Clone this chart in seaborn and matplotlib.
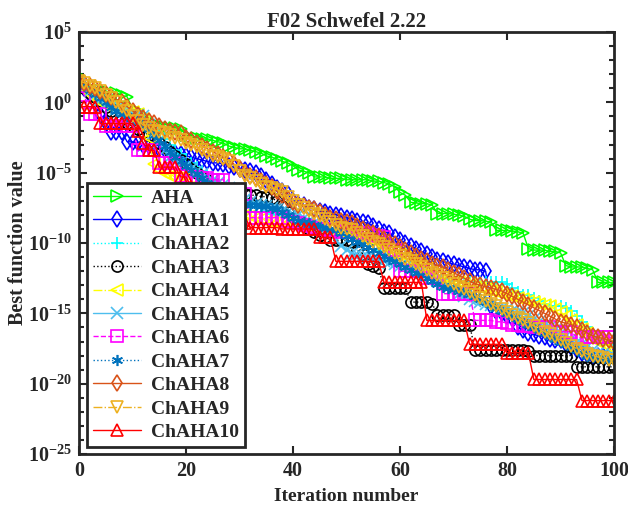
import numpy as np
import matplotlib
matplotlib.use("Agg")
import matplotlib.pyplot as plt
import seaborn as sns
from matplotlib.ticker import FixedLocator, NullFormatter

# iterations 0..100, values below are log10 of best function value
iterations = list(range(101))

aha = [1.9, 1.2, 1.0, 0.9, 0.9, 0.8, 0.7, 0.7, 0.5, 0.4,
       -0.5, -0.6, -0.9, -1.3, -1.5, -1.7, -1.75, -1.8, -1.8, -1.9,
       -2.3, -2.5, -2.5, -2.6, -2.6, -2.7, -2.8, -2.9, -3.1, -3.2,
       -3.3, -3.3, -3.4, -3.5, -3.6, -3.8, -3.9, -4.0, -4.2, -4.3,
       -4.5, -4.8, -4.9, -5.0, -5.3, -5.3, -5.3, -5.4, -5.4, -5.4,
       -5.5, -5.5, -5.5, -5.5, -5.5, -5.6, -5.6, -5.7, -5.8, -6.0,
       -6.4, -6.6, -7.1, -7.15, -7.2, -7.2, -7.3, -7.9, -7.9, -7.9,
       -7.95, -8.0, -8.1, -8.3, -8.4, -8.4, -8.45, -8.5, -9.1, -9.1,
       -9.1, -9.15, -9.2, -9.3, -10.4, -10.5, -10.5, -10.5, -10.6, -10.6,
       -10.7, -11.6, -11.7, -11.7, -11.7, -11.8, -11.9, -12.8, -12.8, -12.8,
       -12.8]
chaha1 = [1.4, 1.0, 0.5, 0.0, -0.8, -1.5, -2.1, -2.1, -2.1, -2.8,
          -2.8, -2.9, -3.0, -3.1, -3.2, -3.3, -3.4, -3.5, -3.6, -3.7,
          -3.8, -3.9, -4.0, -4.1, -4.2, -4.3, -4.3, -4.4, -4.5, -4.6,
          -4.7, -4.8, -4.9, -5.0, -5.2, -5.5, -5.8, -6.1, -6.3, -6.5,
          -7.0, -7.2, -7.3, -7.5, -7.6, -7.7, -7.8, -7.9, -8.0, -8.1,
          -8.2, -8.3, -8.4, -8.5, -8.6, -8.8, -9.0, -9.2, -9.3, -9.6,
          -9.8, -10.0, -10.2, -10.4, -10.6, -10.8, -11.0, -11.2, -11.3, -11.4,
          -11.5, -11.6, -11.7, -11.8, -11.9, -11.9, -12.0, -14.5, -14.8, -15.0,
          -15.2, -15.3, -16.0, -16.2, -16.4, -16.5, -16.6, -16.7, -16.8, -16.9,
          -16.9, -17.2, -17.4, -17.6, -17.8, -17.9, -18.0, -18.0, -18.0, -18.0,
          -18.0]
chaha2 = [1.3, 1.1, 0.9, 0.6, 0.3, 0.0, -0.2, -0.4, -0.6, -0.8,
          -0.9, -1.0, -1.1, -1.4, -1.8, -2.2, -2.6, -3.0, -3.4, -3.7,
          -4.0, -4.3, -4.6, -4.9, -5.2, -5.5, -5.8, -6.1, -6.3, -6.5,
          -6.7, -6.9, -7.1, -7.3, -7.5, -7.7, -7.9, -8.0, -8.1, -8.2,
          -8.3, -8.4, -8.5, -8.6, -8.7, -8.8, -8.9, -9.0, -9.1, -9.2,
          -9.4, -9.6, -9.8, -10.0, -10.2, -10.4, -10.6, -10.8, -11.0, -11.2,
          -11.4, -11.6, -11.8, -12.0, -12.1, -12.2, -12.3, -12.4, -12.5, -12.6,
          -12.7, -12.7, -12.8, -12.8, -12.8, -12.8, -12.8, -12.8, -12.8, -12.8,
          -12.9, -13.2, -13.5, -13.7, -13.7, -13.9, -14.1, -14.3, -14.5, -14.5,
          -14.5, -14.6, -14.8, -15.2, -15.6, -16.0, -16.4, -16.8, -17.0, -17.2,
          -17.3]
chaha3 = [1.4, 1.0, 0.7, 0.4, 0.1, -0.3, -0.6, -0.9, -1.2, -1.5,
          -1.7, -1.9, -2.1, -2.3, -2.6, -2.9, -3.2, -3.5, -3.8, -4.1,
          -4.4, -4.7, -5.0, -5.3, -5.5, -5.8, -6.0, -6.1, -6.2, -6.3,
          -6.4, -6.5, -6.6, -6.6, -6.7, -6.7, -6.8, -7.0, -7.4, -7.8,
          -8.2, -8.5, -8.8, -9.0, -9.2, -9.4, -9.6, -9.8, -9.8, -9.8,
          -9.8, -9.9, -10.5, -10.8, -11.5, -11.6, -11.8, -13.2, -13.2, -13.2,
          -13.2, -13.2, -14.2, -14.2, -14.2, -14.2, -14.3, -15.1, -15.1, -15.1,
          -15.1, -15.8, -15.8, -15.8, -17.6, -17.6, -17.6, -17.6, -17.6, -17.6,
          -17.6, -17.6, -17.6, -17.6, -17.7, -18.0, -18.0, -18.0, -18.0, -18.0,
          -18.0, -18.0, -18.0, -18.8, -18.8, -18.8, -18.8, -18.8, -18.8, -18.8,
          -18.8]
chaha4 = [1.2, 1.0, 0.6, 0.3, 0.0, -0.2, -0.3, -0.4, -0.5, -0.6,
          -0.7, -0.8, -1.2, -2.5, -4.4, -4.8, -5.0, -5.2, -5.3, -5.3,
          -5.4, -5.6, -5.8, -6.0, -6.3, -6.6, -6.9, -7.2, -7.5, -7.7,
          -7.9, -8.0, -8.1, -8.2, -8.3, -8.4, -8.4, -8.5, -8.5, -8.6,
          -8.6, -8.7, -8.7, -8.8, -8.8, -8.9, -9.0, -9.0, -9.1, -9.2,
          -9.3, -9.4, -9.5, -9.6, -9.7, -9.8, -10.0, -10.2, -10.4, -10.6,
          -10.8, -11.0, -11.2, -11.4, -11.6, -11.8, -12.0, -12.2, -12.4, -12.5,
          -12.7, -12.8, -12.9, -13.0, -13.1, -13.2, -13.3, -13.4, -13.5, -13.6,
          -13.7, -13.8, -13.9, -14.0, -14.1, -14.2, -14.3, -14.4, -14.5, -14.7,
          -14.9, -15.2, -15.5, -15.8, -16.1, -16.4, -16.7, -17.0, -17.2, -17.4,
          -17.5]
chaha5 = [1.3, 1.1, 0.8, 0.5, 0.2, -0.1, -0.3, -0.5, -0.6, -0.7,
          -0.8, -0.9, -1.0, -1.6, -2.2, -2.8, -3.4, -3.9, -4.1, -4.3,
          -4.5, -4.7, -4.9, -5.1, -5.3, -5.5, -5.7, -5.9, -6.1, -6.3,
          -6.6, -6.9, -7.1, -7.2, -7.3, -7.4, -7.5, -7.6, -7.7, -7.8,
          -7.9, -8.0, -8.2, -8.4, -8.6, -8.8, -9.0, -9.3, -9.8, -10.2,
          -10.5, -10.7, -10.8, -10.9, -11.0, -11.1, -11.2, -11.3, -11.4, -11.5,
          -11.6, -11.7, -11.8, -11.9, -12.0, -12.2, -12.4, -12.6, -12.8, -13.0,
          -13.3, -13.6, -13.8, -14.0, -14.1, -14.2, -14.3, -14.4, -14.5, -14.6,
          -14.7, -14.8, -14.9, -15.0, -15.2, -15.4, -15.6, -15.8, -16.0, -16.2,
          -16.4, -16.6, -16.8, -17.0, -17.2, -17.4, -17.6, -17.8, -17.9, -18.0,
          -18.0]
chaha6 = [1.2, 0.5, -0.8, -0.8, -0.8, -1.7, -1.7, -1.7, -1.7, -1.7,
          -1.7, -3.4, -3.4, -3.4, -3.4, -4.3, -4.3, -4.3, -4.3, -5.2,
          -5.2, -5.3, -5.3, -5.4, -5.4, -5.5, -5.5, -5.5, -6.5, -6.5,
          -6.5, -6.5, -8.2, -8.2, -8.2, -8.2, -8.2, -8.2, -8.2, -8.4,
          -8.5, -8.6, -8.7, -8.8, -8.9, -9.0, -9.0, -9.1, -9.1, -9.2,
          -9.2, -9.2, -9.3, -9.3, -9.3, -9.4, -9.5, -9.6, -10.5, -10.5,
          -12.0, -12.0, -12.0, -12.0, -12.0, -12.5, -12.5, -12.5, -13.6, -13.6,
          -13.6, -13.6, -13.6, -13.6, -15.5, -15.5, -15.5, -15.5, -15.6, -15.6,
          -15.7, -15.8, -15.8, -15.9, -15.9, -16.0, -16.0, -16.0, -16.0, -16.3,
          -16.3, -16.3, -16.3, -16.7, -16.7, -16.7, -16.7, -16.7, -16.7, -16.7,
          -16.7]
chaha7 = [1.4, 1.2, 0.9, 0.6, 0.3, 0.0, -0.3, -0.6, -0.8, -1.0,
          -1.2, -1.4, -1.6, -1.9, -2.3, -2.7, -3.1, -3.5, -3.9, -4.2,
          -4.5, -4.8, -5.1, -5.4, -5.7, -6.0, -6.3, -6.6, -6.8, -7.0,
          -7.1, -7.2, -7.3, -7.3, -7.4, -7.4, -7.5, -7.6, -7.8, -8.0,
          -8.2, -8.4, -8.5, -8.6, -8.7, -8.8, -8.9, -9.0, -9.1, -9.3,
          -9.5, -9.7, -9.9, -10.1, -10.3, -10.5, -10.7, -10.9, -11.1, -11.3,
          -11.5, -11.7, -11.9, -12.1, -12.3, -12.5, -12.7, -12.9, -13.1, -13.2,
          -13.3, -13.4, -13.5, -13.6, -13.8, -14.0, -14.2, -14.4, -14.6, -14.8,
          -15.0, -15.2, -15.4, -15.6, -15.8, -16.0, -16.2, -16.4, -16.6, -16.8,
          -17.0, -17.2, -17.4, -17.6, -17.8, -18.0, -18.1, -18.2, -18.2, -18.3,
          -18.3]
chaha8 = [1.5, 1.4, 1.2, 1.0, 0.8, 0.6, 0.4, 0.2, 0.0, -0.3,
          -0.6, -0.9, -1.1, -1.3, -1.5, -1.7, -1.9, -2.0, -2.1, -2.2,
          -2.5, -2.7, -2.9, -3.1, -3.3, -3.5, -3.7, -3.9, -4.1, -4.4,
          -4.7, -5.0, -5.2, -5.4, -5.6, -5.8, -6.0, -6.3, -6.6, -6.9,
          -7.1, -7.3, -7.4, -7.5, -7.6, -7.8, -8.0, -8.2, -8.3, -8.4,
          -8.5, -8.6, -8.8, -9.0, -9.2, -9.3, -9.5, -9.7, -9.9, -10.1,
          -10.3, -10.5, -10.7, -10.9, -11.1, -11.3, -11.5, -11.6, -11.7, -11.9,
          -12.1, -12.3, -12.5, -12.7, -12.9, -13.0, -13.1, -13.2, -13.3, -13.4,
          -13.6, -13.8, -14.0, -14.2, -14.4, -14.6, -14.8, -15.0, -15.2, -15.4,
          -15.6, -15.7, -15.8, -16.0, -16.2, -16.4, -16.6, -16.7, -16.8, -16.9,
          -17.0]
chaha9 = [1.5, 1.4, 1.2, 1.0, 0.8, 0.5, 0.3, 0.0, -0.3, -0.6,
          -1.0, -1.3, -1.6, -1.8, -2.0, -2.1, -2.2, -2.3, -2.5, -2.7,
          -2.9, -3.0, -3.2, -3.4, -3.6, -3.8, -3.9, -4.0, -4.2, -4.5,
          -4.9, -5.2, -5.4, -5.6, -5.8, -6.0, -6.1, -6.2, -6.4, -6.7,
          -7.0, -7.3, -7.5, -7.7, -7.9, -8.1, -8.3, -8.5, -8.7, -8.9,
          -9.0, -9.1, -9.3, -9.5, -9.7, -9.9, -10.1, -10.3, -10.5, -10.7,
          -10.9, -11.1, -11.3, -11.5, -11.7, -11.9, -12.1, -12.3, -12.5, -12.7,
          -12.9, -13.1, -13.3, -13.5, -13.7, -13.9, -14.1, -14.3, -14.5, -14.7,
          -14.9, -15.1, -15.3, -15.5, -15.7, -15.9, -16.1, -16.3, -16.5, -16.7,
          -16.9, -17.1, -17.3, -17.5, -17.7, -17.9, -18.0, -18.1, -18.2, -18.3,
          -18.3]
chaha10 = [-0.3, -0.3, -0.3, -0.3, -1.5, -1.5, -1.5, -1.5, -1.5, -1.5,
           -1.5, -2.0, -2.9, -3.4, -3.4, -4.6, -4.6, -4.6, -4.6, -5.3,
           -5.3, -6.0, -6.5, -7.0, -7.3, -7.6, -7.8, -8.0, -8.1, -8.2,
           -8.3, -8.6, -8.9, -8.9, -8.9, -8.9, -8.9, -8.9, -9.0, -9.0,
           -9.0, -9.0, -9.0, -9.0, -9.0, -9.6, -9.6, -9.6, -11.3, -11.3,
           -11.3, -11.3, -11.3, -11.3, -11.3, -11.3, -11.3, -12.8, -12.8, -12.8,
           -12.8, -12.8, -12.8, -12.8, -12.8, -15.5, -15.5, -15.5, -15.5, -15.5,
           -15.5, -15.5, -15.5, -17.2, -17.2, -17.2, -17.2, -17.2, -17.2, -17.2,
           -17.8, -17.8, -17.8, -17.8, -17.8, -19.7, -19.7, -19.7, -19.7, -19.7,
           -19.7, -19.7, -19.7, -19.7, -21.2, -21.2, -21.2, -21.2, -21.2, -21.2,
           -21.2]

names = ["AHA", "ChAHA1", "ChAHA2", "ChAHA3", "ChAHA4", "ChAHA5",
         "ChAHA6", "ChAHA7", "ChAHA8", "ChAHA9", "ChAHA10"]
series = [aha, chaha1, chaha2, chaha3, chaha4, chaha5,
          chaha6, chaha7, chaha8, chaha9, chaha10]
colors = ["#00ff00", "#0000ff", "#00ffff", "#000000", "#ffff00", "#4dbeee",
          "#ff00ff", "#0072bd", "#d95319", "#edb120", "#ff0000"]
markers = [">", "d", "+", "o", "<", "x", "s", (6, 2, 0), "d", "v", "^"]
linestyles = ["-", "-", ":", ":", "-.", "-", "--", ":", "-", "-.", "-"]

sns.set_theme(style="white")
plt.rcParams["font.family"] = ["Liberation Serif", "DejaVu Serif"]
plt.rcParams["font.weight"] = "bold"
plt.rcParams["mathtext.fontset"] = "custom"
plt.rcParams["mathtext.rm"] = "Liberation Serif:bold"
plt.rcParams["mathtext.bf"] = "Liberation Serif:bold"
plt.rcParams["mathtext.it"] = "Liberation Serif:bold:italic"

dark = "#262626"
fig = plt.figure(figsize=(6.28, 5.09), dpi=100)
ax = fig.add_axes([0.1258, 0.108, 0.852, 0.829])

for name, vals, c, m, ls in zip(names, series, colors, markers, linestyles):
    sns.lineplot(x=iterations, y=10.0 ** np.array(vals), ax=ax, color=c,
                 marker=m, linestyle=ls, linewidth=1.0, markersize=8,
                 markeredgecolor=c, markerfacecolor="none",
                 markeredgewidth=1.2, label=name)

ax.set_yscale("log")
ax.set_xlim(0, 100)
ax.set_ylim(1e-25, 1e5)
ax.set_xticks(range(0, 101, 20))
ax.set_xticklabels([str(v) for v in range(0, 101, 20)])
major_exp = list(range(5, -26, -5))
ax.yaxis.set_major_locator(FixedLocator([10.0 ** e for e in major_exp]))
ax.set_yticklabels([rf"$10^{{{e}}}$" for e in major_exp])
ax.yaxis.set_minor_locator(FixedLocator([10.0 ** e for e in range(-25, 6)]))
ax.yaxis.set_minor_formatter(NullFormatter())

for sp in ax.spines.values():
    sp.set_linewidth(2.0)
    sp.set_color(dark)
ax.tick_params(which="both", direction="in", top=True, right=True,
               bottom=True, left=True, color=dark, width=1.5)
ax.tick_params(which="major", length=6, labelsize=14.5, labelcolor=dark, pad=5)
ax.tick_params(which="minor", length=3.5)

ax.set_title("F02 Schwefel 2.22", fontsize=15, fontweight="bold", pad=4)
ax.set_xlabel("Iteration number", fontsize=14, fontweight="bold", color=dark, labelpad=5)
ax.set_ylabel("Best function value", fontsize=14.5, fontweight="bold", color=dark, labelpad=0)

leg = ax.legend(loc="lower left", bbox_to_anchor=(0.015, 0.017), borderaxespad=0,
                fontsize=14, frameon=True, fancybox=False, framealpha=1,
                edgecolor=dark, labelspacing=0.30, handlelength=2.5,
                borderpad=0.3, handletextpad=0.5)
leg.get_frame().set_linewidth(2.0)
for t in leg.get_texts():
    t.set_fontweight("bold")
    t.set_color(dark)

fig.savefig("out.png", dpi=100)
